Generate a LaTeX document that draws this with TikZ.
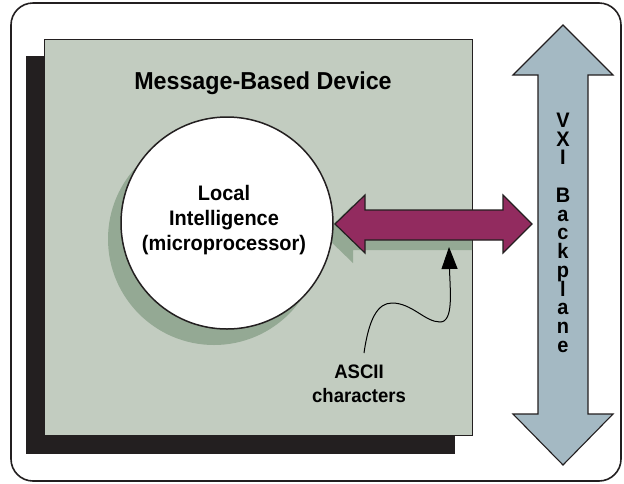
\documentclass[tikz,border=0pt]{standalone}
\usepackage{fontspec}
\setmainfont{Liberation Sans}
\newfontfamily\cond{Liberation Sans}[FakeStretch=0.95]
\usetikzlibrary{arrows.meta,calc}
\definecolor{boxgreen}{HTML}{C2CCC0}
\definecolor{shadegreen}{HTML}{94A994}
\definecolor{inkblack}{HTML}{231F20}
\definecolor{plum}{HTML}{922B5F}
\definecolor{steel}{HTML}{A4B9C3}
\newcommand\vxifont{\cond\bfseries\fontsize{21}{18.75}\selectfont\lineskiplimit -30pt\relax}
\begin{document}
\begin{tikzpicture}[x=1pt,y=-1pt,
  every node/.style={inner sep=0pt, outer sep=0pt},
  frame/.style={draw=inkblack, line width=1.6pt, rounded corners=22pt, rectangle},
  panel/.style={draw=inkblack, line width=1pt, fill=boxgreen, rectangle},
  backing/.style={draw=inkblack, line width=1pt, fill=inkblack, rectangle},
  shade/.style={fill=shadegreen},
  busarrow/.style={draw=inkblack, line width=1.2pt, fill=plum, line join=miter},
  vxiarrow/.style={draw=inkblack, line width=1.1pt, fill=steel, line join=miter},
  cputxt/.style={font=\cond\bfseries\fontsize{21}{25}\selectfont, align=center},
  asciitxt/.style={font=\cond\bfseries\fontsize{19.5}{24}\selectfont, align=center},
  titletxt/.style={font=\cond\bfseries\fontsize{24.5}{29}\selectfont},
  vxitxt/.style={font=\vxifont, align=center},
  wave/.style={draw=black, line width=1pt, -{Triangle[length=22pt,width=16pt]}}
]
\useasboundingbox (0,0) rectangle (624,483);
\fill[white] (0,0) rectangle (624,483);

% outer frame
\node[frame, minimum width=610pt, minimum height=478pt] (frame) at (316,242) {};

% device box and its black backing
\node[backing, minimum width=428pt, minimum height=397pt] (devshadow) at (240,254.5) {};
\node[panel, minimum width=428pt, minimum height=396pt] (device) at (258,237) {};

% circle shadow
\fill[shade] (214,239) circle[radius=106pt];

% bus arrow shadow, clipped to the device box
\begin{scope}
  \clip (44,39) rectangle (472,435);
  \fill[shade, shift={(-12,10)}]
    (335,224) -- (365,195) -- (365,210) -- (503,210) -- (503,195) -- (532,224)
    -- (503,253) -- (503,240) -- (365,240) -- (365,253) -- cycle;
\end{scope}

% local intelligence circle
\node[circle, draw=inkblack, line width=1.5pt, fill=white, minimum size=212pt] (cpu) at (227,223) {};

% bus arrow
\coordinate (busL) at (335,224);
\coordinate (busR) at (532,224);
\draw[busarrow]
  (busL) -- (365,195) -- (365,210) -- (503,210) -- (503,195) -- (busR)
  -- (503,253) -- (503,240) -- (365,240) -- (365,253) -- cycle;

% VXI backplane arrow
\coordinate (vxiT) at (563,25);
\coordinate (vxiB) at (563,465);
\draw[vxiarrow]
  (vxiT) -- (613,75) -- (588,75) -- (588,414) -- (613,414) -- (vxiB)
  -- (513,414) -- (538,414) -- (538,75) -- (513,75) -- cycle;

% texts
\node[titletxt, anchor=base] (title) at (263,89.3) {Message-Based Device};
\node[cputxt, anchor=north] (cputext) at (224,185) {Local\\Intelligence\\(microprocessor)};
\node[asciitxt, anchor=north] (ascii) at (359,365) {ASCII\\characters};
\node[vxitxt, anchor=north] (vxi) at (563,113) {V\\X\\I\\\mbox{}\\B\\a\\c\\k\\p\\l\\a\\n\\e};

% wavy pointer
\coordinate (asciiTail) at ($(ascii.north)+(5,-12)$);
\coordinate (asciiTip) at (449,247);
\draw[wave] (asciiTail) .. controls (369,318) and (378,303) .. (392,303)
  .. controls (412,303) and (425,322) .. (440,322)
  .. controls (454,322) and (450,290) .. (asciiTip);
\end{tikzpicture}
\end{document}
